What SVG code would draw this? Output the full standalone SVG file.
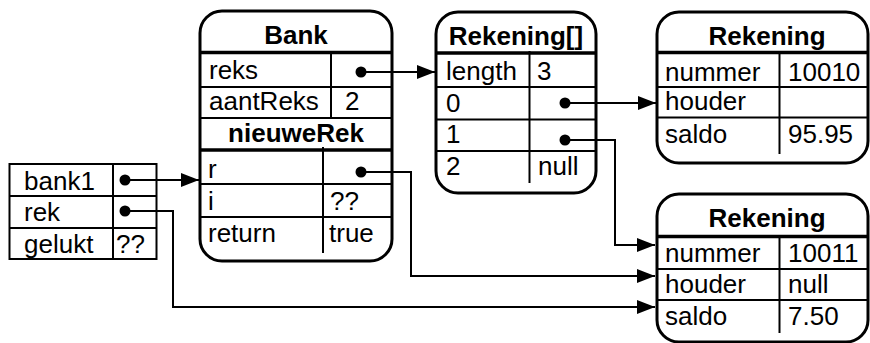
<svg xmlns="http://www.w3.org/2000/svg" width="870" height="343" viewBox="0 0 870 343">
<defs>
<marker id="ah" markerUnits="userSpaceOnUse" markerWidth="19" markerHeight="14" refX="18" refY="7" orient="auto">
<path d="M0,0 L18,7 L0,14 z" fill="#000"/>
</marker>
<style>
.box{fill:#fff;stroke:#000;stroke-width:3}
.tbl{fill:#fff;stroke:#000;stroke-width:2}
.thin{stroke:#000;stroke-width:2;fill:none}
.thick{stroke:#000;stroke-width:3.5;fill:none}
.t{font-family:"Liberation Sans",Arial,sans-serif;font-size:26px;fill:#000}
.b{font-family:"Liberation Sans",Arial,sans-serif;font-size:26px;font-weight:bold;fill:#000;text-anchor:middle}
.dot{fill:#000}
.con{stroke:#000;stroke-width:2;fill:none}
</style>
</defs>

<g id="stack">
<rect class="tbl" x="9.5" y="164" width="147" height="95"/>
<line class="thin" x1="9.5" y1="196" x2="156.5" y2="196"/>
<line class="thin" x1="9.5" y1="228" x2="156.5" y2="228"/>
<line class="thin" x1="113" y1="164" x2="113" y2="259"/>
<text class="t" x="24" y="190">bank1</text>
<text class="t" x="24" y="221">rek</text>
<text class="t" x="24" y="253">gelukt</text>
<text class="t" x="116" y="253">??</text>
<circle class="dot" cx="125" cy="180" r="5.5"/>
<circle class="dot" cx="125" cy="211" r="5.5"/>
</g>

<g id="bank">
<rect class="box" x="200" y="11" width="192" height="250" rx="22"/>
<line class="thick" x1="200" y1="52.5" x2="392" y2="52.5"/>
<line class="thin" x1="200" y1="87" x2="392" y2="87"/>
<line class="thin" x1="200" y1="118" x2="392" y2="118"/>
<line class="thick" x1="200" y1="150" x2="392" y2="150"/>
<line class="thin" x1="200" y1="184" x2="392" y2="184"/>
<line class="thin" x1="200" y1="217" x2="392" y2="217"/>
<line class="thin" x1="331" y1="52" x2="331" y2="118"/>
<line class="thin" x1="323" y1="147" x2="323" y2="253"/>
<text class="b" x="296" y="44">Bank</text>
<text class="t" x="209" y="79">reks</text>
<text class="t" x="209" y="110">aantReks</text>
<text class="t" x="345" y="110">2</text>
<text class="b" x="296" y="142">nieuweRek</text>
<text class="t" x="208" y="178">r</text>
<text class="t" x="208" y="210">i</text>
<text class="t" x="330" y="210">??</text>
<text class="t" x="329" y="242">true</text>
<text class="t" x="208" y="242">return</text>
<circle class="dot" cx="361" cy="72" r="5.5"/>
<circle class="dot" cx="361" cy="172" r="5.5"/>
</g>

<g id="array">
<rect class="box" x="436" y="12" width="160" height="181" rx="22"/>
<line class="thick" x1="436" y1="53" x2="596" y2="53"/>
<line class="thin" x1="436" y1="87" x2="596" y2="87"/>
<line class="thin" x1="436" y1="119.5" x2="596" y2="119.5"/>
<line class="thin" x1="436" y1="151" x2="596" y2="151"/>
<line class="thin" x1="529.5" y1="51" x2="529.5" y2="183"/>
<text class="b" x="516" y="45">Rekening[]</text>
<text class="t" x="446" y="80">length</text>
<text class="t" x="537" y="80">3</text>
<text class="t" x="446" y="112">0</text>
<text class="t" x="446" y="143">1</text>
<text class="t" x="446" y="175">2</text>
<text class="t" x="538" y="175">null</text>
<circle class="dot" cx="565" cy="103" r="5.5"/>
<circle class="dot" cx="565" cy="140" r="5.5"/>
</g>

<g id="rekening1">
<rect class="box" x="657" y="12" width="211" height="151" rx="22"/>
<line class="thick" x1="657" y1="52.5" x2="868" y2="52.5"/>
<line class="thin" x1="657" y1="87" x2="868" y2="87"/>
<line class="thin" x1="657" y1="117.5" x2="868" y2="117.5"/>
<line class="thin" x1="779.5" y1="52" x2="779.5" y2="154"/>
<text class="b" x="767" y="45">Rekening</text>
<text class="t" x="665" y="81">nummer</text>
<text class="t" x="788" y="81">10010</text>
<text class="t" x="665" y="110">houder</text>
<text class="t" x="665" y="143">saldo</text>
<text class="t" x="788" y="143">95.95</text>
</g>

<g id="rekening2">
<rect class="box" x="657" y="194" width="211" height="148" rx="22"/>
<line class="thick" x1="657" y1="236.5" x2="868" y2="236.5"/>
<line class="thin" x1="657" y1="269" x2="868" y2="269"/>
<line class="thin" x1="657" y1="300" x2="868" y2="300"/>
<line class="thin" x1="779.5" y1="236" x2="779.5" y2="333"/>
<text class="b" x="767" y="227">Rekening</text>
<text class="t" x="665" y="262">nummer</text>
<text class="t" x="788" y="262">10011</text>
<text class="t" x="665" y="293">houder</text>
<text class="t" x="788" y="293">null</text>
<text class="t" x="665" y="325">saldo</text>
<text class="t" x="788" y="325">7.50</text>
</g>

<g id="connectors">
<path class="con" d="M125,180 H199" marker-end="url(#ah)"/>
<path class="con" d="M125,211 H173 V307 H655" marker-end="url(#ah)"/>
<path class="con" d="M361,72 H435" marker-end="url(#ah)"/>
<path class="con" d="M361,172 H411 V276 H655" marker-end="url(#ah)"/>
<path class="con" d="M565,103 H656" marker-end="url(#ah)"/>
<path class="con" d="M565,140 H615 V245 H655" marker-end="url(#ah)"/>
</g>
</svg>
